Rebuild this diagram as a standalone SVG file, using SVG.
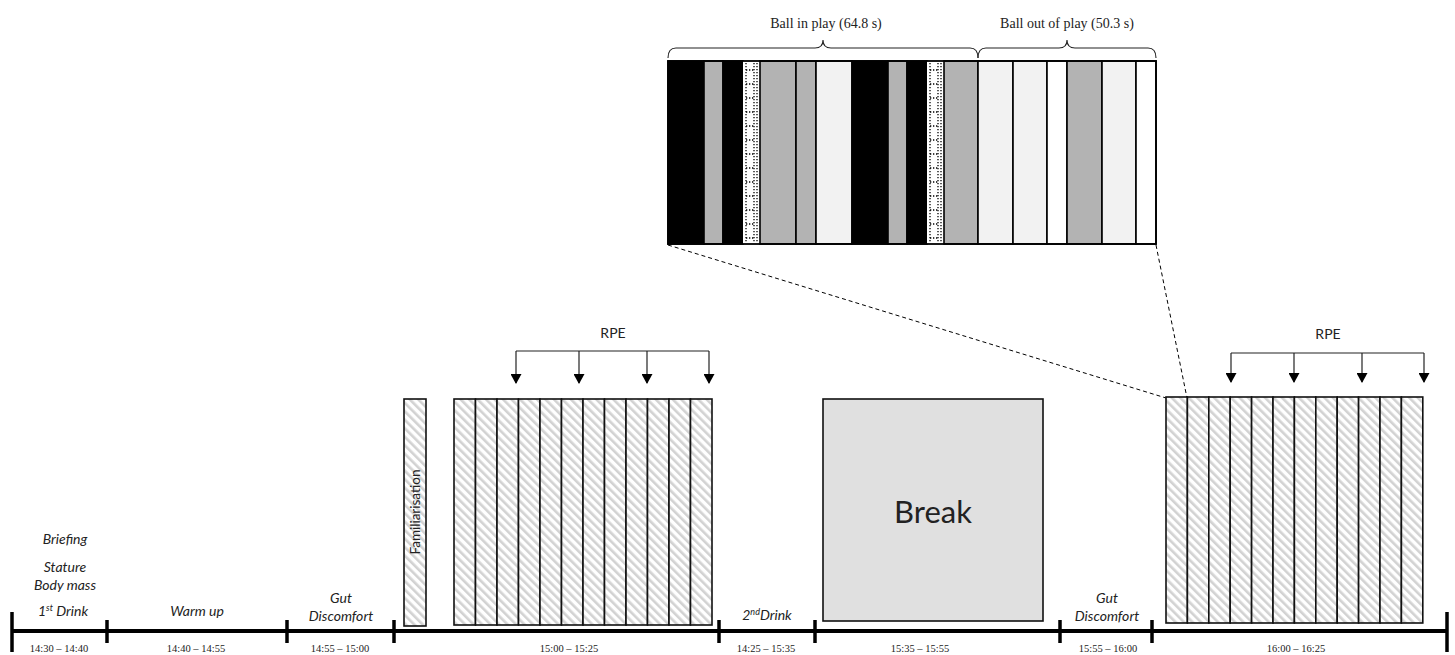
<svg xmlns="http://www.w3.org/2000/svg" xmlns:xlink="http://www.w3.org/1999/xlink" width="1455" height="655" viewBox="0 0 1455 655">
  <style>
    .bg { fill: #ffffff; }
    .seg { stroke: #000; stroke-width: 1.6; }
    .blk { fill: #000000; }
    .gry { fill: #b3b3b3; }
    .lgt { fill: #f2f2f2; }
    .wht { fill: #ffffff; }
    .dot { stroke: #000; stroke-width: 1.3; stroke-dasharray: 1.3 1.7; fill: none; }
    .brace { fill: none; stroke: #222; stroke-width: 1.1; }
    .zoomline { stroke: #000; stroke-width: 1; stroke-dasharray: 4 3; fill: none; }
    .strip { fill: url(#hatch); stroke: #111; stroke-width: 1.6; }
    .brk { fill: #e0e0e0; stroke: #111; stroke-width: 1.6; }
    .axis { stroke: #000; stroke-width: 4; fill: none; }
    .tick { stroke: #000; stroke-width: 3.5; }
    .rpe { stroke: #222; stroke-width: 1.2; fill: none; }
    .rpe-drop { stroke: #222; stroke-width: 1.2; fill: none; marker-end: url(#head); }
    .serif { font-family: "Liberation Serif", "Times New Roman", serif; fill: #222; }
    .lbl { font-family: "Lato", "Liberation Sans", sans-serif; fill: #222; }
    .it { font-style: italic; font-size: 14px; }
    .time { font-size: 10.5px; }
    .cap { font-size: 14px; }
  </style>
  <defs>
    <pattern id="hatch" patternUnits="userSpaceOnUse" width="6" height="6" patternTransform="rotate(-45)">
      <rect x="0" y="0" width="6" height="6" fill="#ffffff"/>
      <rect x="0" y="0" width="2.6" height="6" fill="#d2d2d2"/>
    </pattern>
    <!-- filled arrowhead pointing along the line direction -->
    <marker id="head" markerWidth="10" markerHeight="11" refX="9" refY="5.5" orient="auto" markerUnits="userSpaceOnUse" viewBox="0 0 10 11">
      <path d="M0,0 L10,5.5 L0,11 Z" fill="#000"/>
    </marker>
    <!-- dotted column used for the two dotted bars of the detail strip -->
    <g id="dotcol">
      <rect x="0" y="0" width="17" height="183" fill="#ffffff"/>
      <line class="dot" x1="3" y1="2" x2="3" y2="181"/>
      <line class="dot" x1="11" y1="2" x2="11" y2="181"/>
      <line class="dot" x1="14" y1="2" x2="14" y2="181"/>
      <line class="dot" x1="3" y1="9" x2="12" y2="9"/>
      <line class="dot" x1="3" y1="23" x2="12" y2="23"/>
      <line class="dot" x1="3" y1="37" x2="12" y2="37"/>
      <line class="dot" x1="3" y1="51" x2="12" y2="51"/>
      <line class="dot" x1="3" y1="65" x2="12" y2="65"/>
      <line class="dot" x1="3" y1="79" x2="12" y2="79"/>
      <line class="dot" x1="3" y1="93" x2="12" y2="93"/>
      <line class="dot" x1="3" y1="107" x2="12" y2="107"/>
      <line class="dot" x1="3" y1="121" x2="12" y2="121"/>
      <line class="dot" x1="3" y1="135" x2="12" y2="135"/>
      <line class="dot" x1="3" y1="149" x2="12" y2="149"/>
      <line class="dot" x1="3" y1="163" x2="12" y2="163"/>
      <line class="dot" x1="3" y1="177" x2="12" y2="177"/>
    </g>
  </defs>

  <rect class="bg" x="0" y="0" width="1455" height="655"/>

  <!-- detail of one exercise block: ball in play / ball out of play -->
  <g id="detail-strip">
    <rect class="seg blk" x="668" y="61" width="36" height="183"/>
    <rect class="seg gry" x="704" y="61" width="19" height="183"/>
    <rect class="seg blk" x="723" y="61" width="20" height="183"/>
    <use xlink:href="#dotcol" x="743" y="61"/>
    <rect class="seg gry" x="760" y="61" width="36" height="183"/>
    <rect class="seg gry" x="796" y="61" width="20" height="183"/>
    <rect class="seg lgt" x="816" y="61" width="36" height="183"/>
    <rect class="seg blk" x="852" y="61" width="36" height="183"/>
    <rect class="seg gry" x="888" y="61" width="19" height="183"/>
    <rect class="seg blk" x="907" y="61" width="20" height="183"/>
    <use xlink:href="#dotcol" x="927" y="61"/>
    <rect class="seg gry" x="944" y="61" width="34" height="183"/>
    <rect class="seg lgt" x="978" y="61" width="35" height="183"/>
    <rect class="seg lgt" x="1013" y="61" width="34" height="183"/>
    <rect class="seg wht" x="1047" y="61" width="20" height="183"/>
    <rect class="seg gry" x="1067" y="61" width="35" height="183"/>
    <rect class="seg lgt" x="1102" y="61" width="34" height="183"/>
    <rect class="seg wht" x="1136" y="61" width="20" height="183"/>
    <rect x="668" y="61" width="488" height="183" fill="none" stroke="#000" stroke-width="1.8"/>
  </g>

  <g id="brace-in-play">
    <path class="brace" d="M668,58 Q668,48 676,48 L815,48 Q823,48 823,40 Q823,48 831,48 L970,48 Q978,48 978,58"/>
    <text class="serif cap" x="826" y="28" text-anchor="middle">Ball in play (64.8 s)</text>
  </g>
  <g id="brace-out-of-play">
    <path class="brace" d="M978,58 Q978,48 986,48 L1059,48 Q1067,48 1067,40 Q1067,48 1075,48 L1148,48 Q1156,48 1156,58"/>
    <text class="serif cap" x="1067" y="28" text-anchor="middle">Ball out of play (50.3 s)</text>
  </g>

  <!-- zoom guide lines from the second half to the detail strip, and RPE prompts -->
  <g id="connectors">
    <line class="zoomline" x1="668" y1="245" x2="1166" y2="398"/>
    <line class="zoomline" x1="1156" y1="245" x2="1187" y2="398"/>
    <g id="rpe-first-half">
      <polyline class="rpe" points="516,351 709,351"/>
      <line class="rpe-drop" x1="516" y1="351" x2="516" y2="383"/>
      <line class="rpe-drop" x1="579" y1="351" x2="579" y2="383"/>
      <line class="rpe-drop" x1="647" y1="351" x2="647" y2="383"/>
      <line class="rpe-drop" x1="709" y1="351" x2="709" y2="383"/>
    </g>
    <g id="rpe-second-half">
      <polyline class="rpe" points="1231,353 1424,353"/>
      <line class="rpe-drop" x1="1231" y1="353" x2="1231" y2="382"/>
      <line class="rpe-drop" x1="1294" y1="353" x2="1294" y2="382"/>
      <line class="rpe-drop" x1="1362" y1="353" x2="1362" y2="382"/>
      <line class="rpe-drop" x1="1424" y1="353" x2="1424" y2="382"/>
    </g>
  </g>
  <text class="lbl" x="613" y="338" text-anchor="middle" font-size="14">RPE</text>
  <text class="lbl" x="1328" y="339" text-anchor="middle" font-size="14">RPE</text>

  <!-- familiarisation block -->
  <g id="familiarisation">
    <rect class="strip" x="404" y="399" width="22" height="227"/>
    <text class="lbl" transform="translate(420,512) rotate(-90)" text-anchor="middle" font-size="13.5">Familiarisation</text>
  </g>

  <!-- first half: 12 exercise blocks -->
  <g id="first-half">
    <rect class="strip" x="454" y="399" width="21.5" height="226"/>
    <rect class="strip" x="475.5" y="399" width="21.5" height="226"/>
    <rect class="strip" x="497" y="399" width="21.5" height="226"/>
    <rect class="strip" x="518.5" y="399" width="21.5" height="226"/>
    <rect class="strip" x="540" y="399" width="21.5" height="226"/>
    <rect class="strip" x="561.5" y="399" width="21.5" height="226"/>
    <rect class="strip" x="583" y="399" width="21.5" height="226"/>
    <rect class="strip" x="604.5" y="399" width="21.5" height="226"/>
    <rect class="strip" x="626" y="399" width="21.5" height="226"/>
    <rect class="strip" x="647.5" y="399" width="21.5" height="226"/>
    <rect class="strip" x="669" y="399" width="21.5" height="226"/>
    <rect class="strip" x="690.5" y="399" width="21.5" height="226"/>
  </g>

  <!-- half-time break -->
  <g id="break">
    <rect class="brk" x="823" y="399" width="220" height="222"/>
    <text class="lbl" x="933" y="523" text-anchor="middle" font-size="31">Break</text>
  </g>

  <!-- second half: 12 exercise blocks -->
  <g id="second-half">
    <rect class="strip" x="1166" y="397" width="21.4" height="226"/>
    <rect class="strip" x="1187.4" y="397" width="21.4" height="226"/>
    <rect class="strip" x="1208.8" y="397" width="21.4" height="226"/>
    <rect class="strip" x="1230.2" y="397" width="21.4" height="226"/>
    <rect class="strip" x="1251.6" y="397" width="21.4" height="226"/>
    <rect class="strip" x="1273" y="397" width="21.4" height="226"/>
    <rect class="strip" x="1294.4" y="397" width="21.4" height="226"/>
    <rect class="strip" x="1315.8" y="397" width="21.4" height="226"/>
    <rect class="strip" x="1337.2" y="397" width="21.4" height="226"/>
    <rect class="strip" x="1358.6" y="397" width="21.4" height="226"/>
    <rect class="strip" x="1380" y="397" width="21.4" height="226"/>
    <rect class="strip" x="1401.4" y="397" width="21.4" height="226"/>
  </g>

  <!-- timeline axis -->
  <g id="timeline">
    <line class="axis" x1="12" y1="631" x2="1447" y2="631"/>
    <line class="tick" x1="12" y1="612" x2="12" y2="652"/>
    <line class="tick" x1="107" y1="620" x2="107" y2="643"/>
    <line class="tick" x1="287" y1="620" x2="287" y2="643"/>
    <line class="tick" x1="394" y1="620" x2="394" y2="643"/>
    <line class="tick" x1="719" y1="620" x2="719" y2="643"/>
    <line class="tick" x1="815" y1="620" x2="815" y2="643"/>
    <line class="tick" x1="1060" y1="620" x2="1060" y2="643"/>
    <line class="tick" x1="1152" y1="620" x2="1152" y2="643"/>
    <line class="tick" x1="1447" y1="612" x2="1447" y2="652"/>
  </g>

  <!-- pre-exercise measures -->
  <g id="pre-measures">
    <text class="lbl it" x="65" y="544" text-anchor="middle">Briefing</text>
    <text class="lbl it" x="65" y="572" text-anchor="middle">Stature</text>
    <text class="lbl it" x="65" y="590" text-anchor="middle">Body mass</text>
    <text class="lbl it" x="63" y="616" text-anchor="middle">1<tspan font-size="9" dy="-5">st</tspan><tspan dy="5"> Drink</tspan></text>
  </g>
  <g id="warm-up">
    <text class="lbl it" x="197" y="616" text-anchor="middle">Warm up</text>
  </g>
  <g id="gut-1">
    <text class="lbl it" x="341" y="603" text-anchor="middle">Gut</text>
    <text class="lbl it" x="341" y="621" text-anchor="middle">Discomfort</text>
  </g>
  <g id="drink-2">
    <text class="lbl it" x="767" y="620" text-anchor="middle">2<tspan font-size="9" dy="-5">nd</tspan><tspan dy="5">Drink</tspan></text>
  </g>
  <g id="gut-2">
    <text class="lbl it" x="1107" y="603" text-anchor="middle">Gut</text>
    <text class="lbl it" x="1107" y="621" text-anchor="middle">Discomfort</text>
  </g>

  <!-- clock times under each phase -->
  <g id="times">
    <text class="serif time" x="59" y="652" text-anchor="middle">14:30 – 14:40</text>
    <text class="serif time" x="196" y="652" text-anchor="middle">14:40 – 14:55</text>
    <text class="serif time" x="340" y="652" text-anchor="middle">14:55 – 15:00</text>
    <text class="serif time" x="569" y="652" text-anchor="middle">15:00 – 15:25</text>
    <text class="serif time" x="766" y="652" text-anchor="middle">14:25 – 15:35</text>
    <text class="serif time" x="920" y="652" text-anchor="middle">15:35 – 15:55</text>
    <text class="serif time" x="1108" y="652" text-anchor="middle">15:55 – 16:00</text>
    <text class="serif time" x="1296" y="652" text-anchor="middle">16:00 – 16:25</text>
  </g>
</svg>
